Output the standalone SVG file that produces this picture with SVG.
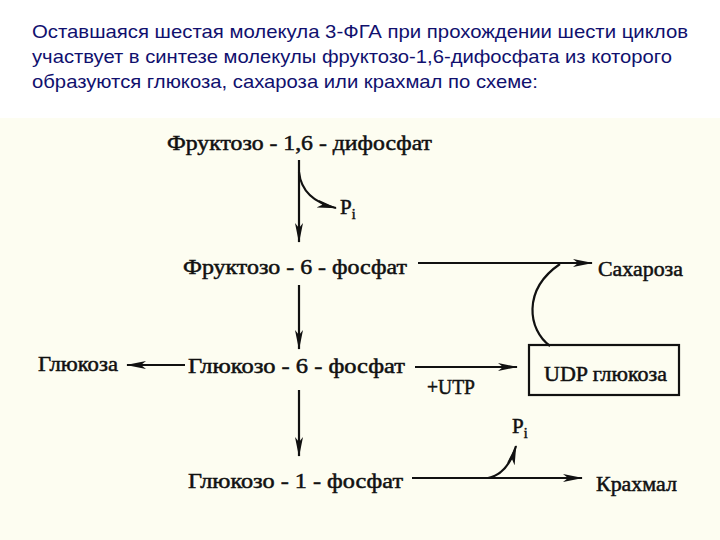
<svg xmlns="http://www.w3.org/2000/svg" width="720" height="540" viewBox="0 0 720 540">
<defs>
<style>
.hdr{font-family:"Liberation Sans",Arial,sans-serif;font-size:19px;fill:#10106e}
.lbl{font-family:"Liberation Serif","Times New Roman",serif;font-size:21px;fill:#111;stroke:#111;stroke-width:0.5}
.ln{stroke:#111;stroke-width:2.2;fill:none}
</style>
<marker id="ah" viewBox="0 0 20 8" refX="19" refY="4" markerWidth="20" markerHeight="8" markerUnits="userSpaceOnUse" orient="auto">
<path d="M0,0 L20,4 L0,8 L5,4 Z" fill="#111"/>
</marker>
</defs>
<rect width="720" height="540" fill="#ffffff"/>
<rect x="0" y="118" width="720" height="422" fill="#fdfdf1"/>
<g id="header">
<text class="hdr" x="32" y="38" textLength="656" lengthAdjust="spacingAndGlyphs">Оставшаяся шестая молекула 3-ФГА при прохождении шести циклов</text>
<text class="hdr" x="32" y="63" textLength="640" lengthAdjust="spacingAndGlyphs">участвует в синтезе молекулы фруктозо-1,6-дифосфата из которого</text>
<text class="hdr" x="32" y="88" textLength="506" lengthAdjust="spacingAndGlyphs">образуются глюкоза, сахароза или крахмал по схеме:</text>
</g>
<g id="connectors">
<line class="ln" x1="299" y1="160" x2="299" y2="242" marker-end="url(#ah)"/>
<path class="ln" d="M299,172 Q302,200 336,208" marker-end="url(#ah)"/>
<line class="ln" x1="418" y1="263" x2="592" y2="263" marker-end="url(#ah)"/>
<path class="ln" d="M550,346 C528,330 522,290 560,264"/>
<line class="ln" x1="299" y1="285" x2="299" y2="349" marker-end="url(#ah)"/>
<line class="ln" x1="185" y1="365" x2="127" y2="365" marker-end="url(#ah)"/>
<line class="ln" x1="415" y1="367" x2="517" y2="367" marker-end="url(#ah)"/>
<line class="ln" x1="299" y1="390" x2="299" y2="456" marker-end="url(#ah)"/>
<line class="ln" x1="412" y1="478" x2="582" y2="478" marker-end="url(#ah)"/>
<path class="ln" d="M488,478 Q508,474 516,446" marker-end="url(#ah)"/>
</g>
<g id="f16bp"><text class="lbl" x="167" y="150" textLength="265" lengthAdjust="spacingAndGlyphs">Фруктозо - 1,6 - дифосфат</text></g>
<g id="pi1"><text class="lbl" x="340" y="214" font-size="22">P<tspan font-size="14" dy="5">i</tspan></text></g>
<g id="f6p"><text class="lbl" x="183" y="274" textLength="224" lengthAdjust="spacingAndGlyphs">Фруктозо - 6 - фосфат</text></g>
<g id="sucrose"><text class="lbl" x="598" y="276" textLength="85" lengthAdjust="spacingAndGlyphs">Сахароза</text></g>
<g id="glucose"><text class="lbl" x="38" y="371" textLength="80" lengthAdjust="spacingAndGlyphs">Глюкоза</text></g>
<g id="g6p"><text class="lbl" x="188" y="373" textLength="217" lengthAdjust="spacingAndGlyphs">Глюкозо - 6 - фосфат</text></g>
<g id="utp"><text class="lbl" x="427" y="394" textLength="48" lengthAdjust="spacingAndGlyphs">+UTP</text></g>
<g id="udpg">
<rect x="529" y="345" width="150" height="50" fill="none" stroke="#111" stroke-width="2.2"/>
<text class="lbl" x="544" y="381" textLength="123" lengthAdjust="spacingAndGlyphs">UDP глюкоза</text>
</g>
<g id="pi2"><text class="lbl" x="512" y="433" font-size="22">P<tspan font-size="14" dy="5">i</tspan></text></g>
<g id="g1p"><text class="lbl" x="188" y="488" textLength="215" lengthAdjust="spacingAndGlyphs">Глюкозо - 1 - фосфат</text></g>
<g id="starch"><text class="lbl" x="596" y="491" textLength="81" lengthAdjust="spacingAndGlyphs">Крахмал</text></g>
</svg>
